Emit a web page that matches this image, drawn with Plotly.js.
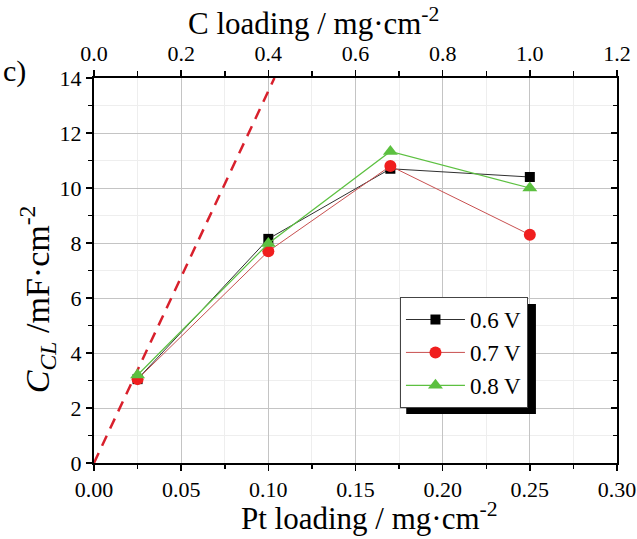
<!DOCTYPE html>
<html>
<head>
<meta charset="utf-8">
<script src="https://cdn.plot.ly/plotly-3.0.1.min.js"></script>
<style>html,body{margin:0;padding:0;background:#fff;}#chart{width:637px;height:539px;}</style>
</head>
<body>
<div id="chart"></div>
<script>
// Data
const ptLoading = [0.025, 0.10, 0.17, 0.25];
const c06V = [3.05, 8.15, 10.7, 10.4];
const c07V = [3.05, 7.7, 10.8, 8.3];
const c08V = [3.2, 7.98, 11.33, 10.0];
const refLineX = [0, 0.1035];
const refLineY = [0, 14];
const seriesNames = ['0.6 V', '0.7 V', '0.8 V'];

const serif = 'Liberation Serif, Times New Roman, serif';

const traces = [
  {x: refLineX, y: refLineY, mode: 'lines', showlegend: false,
   line: {color: '#d8202c', width: 2.5, dash: '11px,8px'}, hoverinfo: 'skip'},
  {x: ptLoading, y: c06V, name: seriesNames[0], mode: 'lines+markers',
   line: {color: '#303030', width: 1}, marker: {symbol: 'square', size: 10, color: '#000'}},
  {x: ptLoading, y: c07V, name: seriesNames[1], mode: 'lines+markers',
   line: {color: '#c85050', width: 1}, marker: {symbol: 'circle', size: 12, color: '#f01e1e'}},
  {x: ptLoading, y: c08V, name: seriesNames[2], mode: 'lines+markers',
   line: {color: '#5cc040', width: 1.2}, marker: {symbol: 'triangle-up', size: 13, color: '#5cc040'}},
  {x: [0], y: [0], xaxis: 'x2', yaxis: 'y', mode: 'markers', showlegend: false,
   marker: {opacity: 0}, hoverinfo: 'skip'},
  {x: [0], y: [0], xaxis: 'x', yaxis: 'y2', mode: 'markers', showlegend: false,
   marker: {opacity: 0}, hoverinfo: 'skip'}
];

const layout = {
  width: 637, height: 539,
  margin: {l: 94, r: 20, t: 78, b: 76},
  paper_bgcolor: '#fff', plot_bgcolor: '#fff',
  font: {family: serif, color: '#000', size: 22},
  showlegend: true,
  xaxis: {
    range: [0, 0.30], dtick: 0.05, tickformat: '.2f',
    ticks: 'outside', ticklen: 6, tickwidth: 1.5, tickcolor: '#000',
    showline: true, linecolor: '#000', linewidth: 2,
    showgrid: true, gridcolor: '#c4c4c4', gridwidth: 1, zeroline: false,
    minor: {dtick: 0.025, ticks: 'outside', ticklen: 4, tickcolor: '#000', showgrid: true, gridcolor: '#eeeeee'},
    tickfont: {size: 22, family: serif}
  },
  xaxis2: {
    overlaying: 'x', side: 'top', anchor: 'y',
    range: [0, 1.2], dtick: 0.2, tickformat: '.1f',
    ticks: 'outside', ticklen: 6, tickwidth: 1.5, tickcolor: '#000',
    showline: true, linecolor: '#000', linewidth: 2,
    showgrid: false, zeroline: false,
    minor: {dtick: 0.1, ticks: 'outside', ticklen: 5, tickcolor: '#000'},
    tickfont: {size: 22, family: serif}
  },
  yaxis: {
    range: [0, 14], dtick: 2,
    ticks: 'outside', ticklen: 6, tickwidth: 1.5, tickcolor: '#000',
    showline: true, linecolor: '#000', linewidth: 2,
    showgrid: true, gridcolor: '#c4c4c4', gridwidth: 1, zeroline: false,
    minor: {dtick: 1, ticks: 'outside', ticklen: 4, tickcolor: '#000', showgrid: true, gridcolor: '#eeeeee'},
    tickfont: {size: 22, family: serif}
  },
  yaxis2: {
    overlaying: 'y', side: 'right', anchor: 'x', range: [0, 14], dtick: 2,
    ticks: 'inside', ticklen: 6, tickwidth: 1.5, tickcolor: '#000',
    showline: true, linecolor: '#000', linewidth: 2, showticklabels: false,
    showgrid: false, zeroline: false,
    minor: {dtick: 1, ticks: 'inside', ticklen: 4, tickcolor: '#000'}
  },
  legend: {
    x: 0.585, y: 0.431, xanchor: 'left', yanchor: 'top',
    bgcolor: '#fff', bordercolor: '#444', borderwidth: 1,
    font: {size: 23, family: serif}, itemwidth: 59, tracegroupgap: 0
  },
  shapes: [
    {type: 'rect', xref: 'paper', yref: 'paper', x0: 0.597, x1: 0.845, y0: 0.127, y1: 0.413,
     fillcolor: '#000', line: {width: 0}, layer: 'above'}
  ],
  annotations: [
    {text: 'c)', xref: 'paper', yref: 'paper', x: -0.178, y: 1.018, xanchor: 'left', yanchor: 'middle',
     showarrow: false, font: {size: 30, family: serif}},
    {text: 'C loading / mg·cm<sup>-2</sup>', xref: 'paper', yref: 'paper', x: 0.42, y: 1.148,
     xanchor: 'center', yanchor: 'middle', showarrow: false, font: {size: 31, family: serif}},
    {text: 'Pt loading / mg·cm<sup>-2</sup>', xref: 'paper', yref: 'paper', x: 0.527, y: -0.14,
     xanchor: 'center', yanchor: 'middle', showarrow: false, font: {size: 31, family: serif}},
    {text: '<i>C</i><sub><i>CL</i></sub> /mF·cm<sup>-2</sup>', xref: 'paper', yref: 'paper', x: -0.108, y: 0.424,
     xanchor: 'center', yanchor: 'middle', textangle: -90, showarrow: false, font: {size: 34, family: serif}}
  ]
};

Plotly.newPlot('chart', traces, layout, {displayModeBar: false, staticPlot: true});
</script>
</body>
</html>
